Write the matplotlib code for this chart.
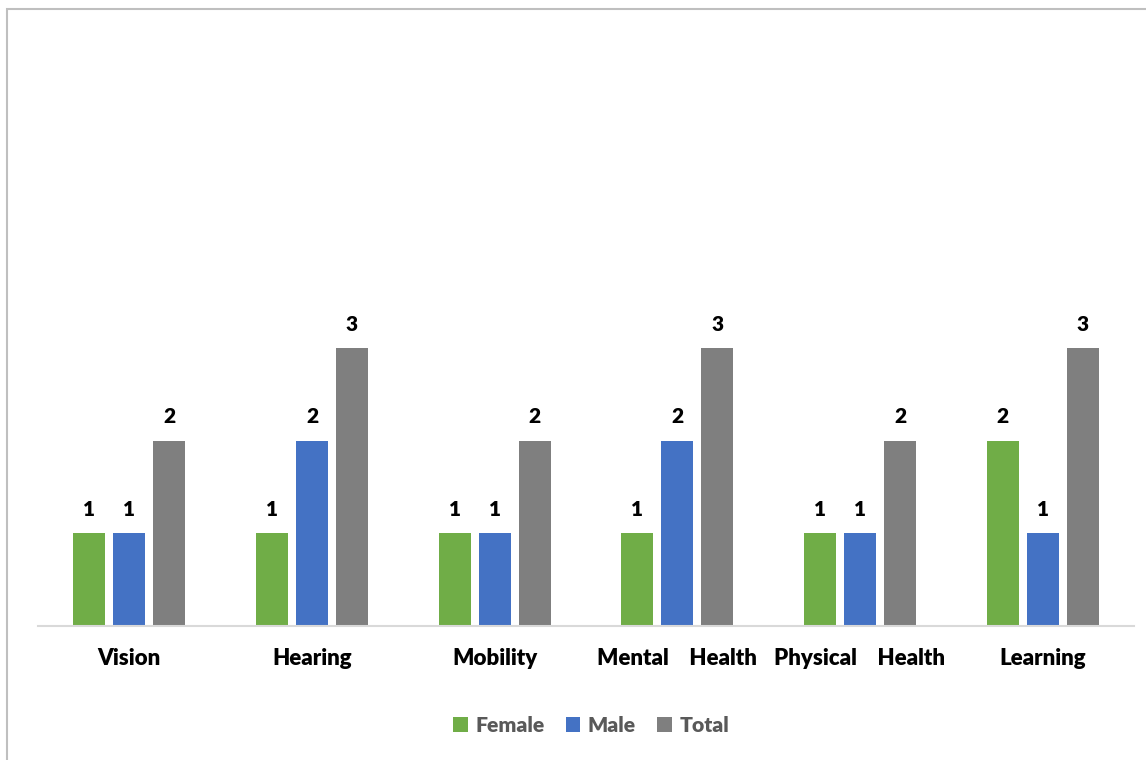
import matplotlib
matplotlib.use('Agg')
import matplotlib.pyplot as plt
import numpy as np
from matplotlib.patches import Rectangle

# dados por tipo de deficiencia
categorias = ["Vision", "Hearing", "Mobility", "Mental    Health",
              "Physical    Health", "Learning"]
female = [1, 1, 1, 1, 1, 2]
male   = [1, 2, 1, 2, 1, 1]
total  = [2, 3, 2, 3, 2, 3]

series = [("Female", female, "#70AD47"),
          ("Male", male, "#4472C4"),
          ("Total", total, "#7F7F7F")]

plt.rcParams['font.family'] = ['Lato', 'DejaVu Sans']

fig = plt.figure(figsize=(11.46, 7.6), dpi=100)
ax = fig.add_axes([38/1146, 134/760, 1096/1146, 574/760])

x = np.arange(len(categorias))
w = 0.175
step = 0.219
for i, (lbl, vals, cor) in enumerate(series):
    pos = x + (i - 1) * step
    ax.bar(pos, vals, w, color=cor, label=lbl, zorder=2)
    for px, v in zip(pos, vals):
        ax.annotate(f"{v}", (px, v), xytext=(0, 10.5), textcoords='offset points',
                    ha='center', va='bottom', fontsize=15, fontweight='heavy')

ax.set_xlim(-0.5, len(categorias) - 0.5)
ax.set_ylim(0, 6.2)
ax.set_xticks(x)
ax.set_xticklabels(categorias, fontsize=16, fontweight='heavy')
ax.tick_params(axis='x', length=0, pad=15.5)
ax.set_yticks([])
for s in ['top', 'right', 'left']:
    ax.spines[s].set_visible(False)
ax.spines['bottom'].set_color('#D9D9D9')
ax.spines['bottom'].set_linewidth(1.5)
ax.spines['bottom'].set_zorder(3)

leg = fig.legend(loc='center', bbox_to_anchor=(591/1146, 1 - 725/760), ncol=3,
                 frameon=False, handlelength=0.7, handleheight=0.7,
                 handletextpad=0.35, columnspacing=1.0,
                 prop={'weight': 'heavy', 'size': 15.2})
for t in leg.get_texts():
    t.set_color('#595959')

# moldura do grafico
fig.patches.append(Rectangle((7/1146, -0.1), 1.2, 1 - 9/760 + 0.1,
                             transform=fig.transFigure, fill=False,
                             edgecolor='#BFBFBF', linewidth=1.5))

plt.savefig("out.png", dpi=100)
